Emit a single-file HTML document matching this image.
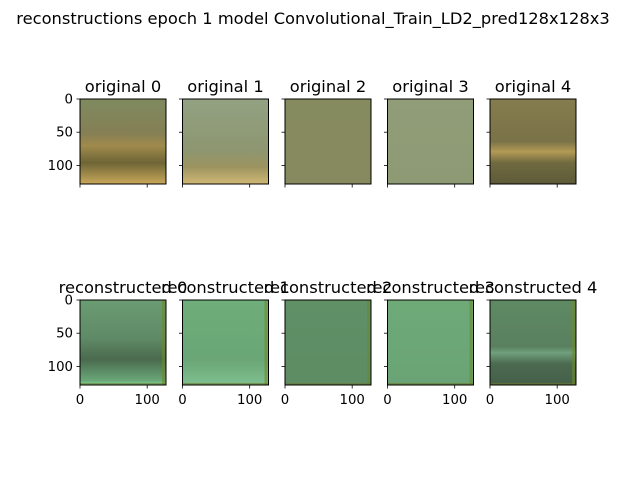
<!DOCTYPE html>
<html><head><meta charset="utf-8"><style>
body{margin:0;background:#fff;}
svg{display:block;font-family:"DejaVu Sans","Liberation Sans",sans-serif;}
</style></head><body>
<svg id="fig" width="640" height="480" xmlns="http://www.w3.org/2000/svg">
<defs>
<linearGradient id="o0" x1="0" y1="0" x2="0" y2="1"><stop offset="0" stop-color="#7f8a5f"/><stop offset="0.4" stop-color="#857f55"/><stop offset="0.55" stop-color="#a08a4c"/><stop offset="0.75" stop-color="#6e6536"/><stop offset="1" stop-color="#c8a85a"/></linearGradient>
<linearGradient id="o1" x1="0" y1="0" x2="0" y2="1"><stop offset="0" stop-color="#93a283"/><stop offset="0.6" stop-color="#8d9670"/><stop offset="0.8" stop-color="#9c9460"/><stop offset="1" stop-color="#d0b874"/></linearGradient>
<linearGradient id="o2" x1="0" y1="0" x2="0" y2="1"><stop offset="0" stop-color="#858a5f"/><stop offset="1" stop-color="#878a5e"/></linearGradient>
<linearGradient id="o3" x1="0" y1="0" x2="0" y2="1"><stop offset="0" stop-color="#919d78"/><stop offset="1" stop-color="#8e9a74"/></linearGradient>
<linearGradient id="o4" x1="0" y1="0" x2="0" y2="1"><stop offset="0" stop-color="#857c4e"/><stop offset="0.5" stop-color="#7a7248"/><stop offset="0.62" stop-color="#b39a55"/><stop offset="0.75" stop-color="#6f6a40"/><stop offset="1" stop-color="#5e5a38"/></linearGradient>
<linearGradient id="r0" x1="0" y1="0" x2="0" y2="1"><stop offset="0" stop-color="#6a9c72"/><stop offset="0.45" stop-color="#5f8a66"/><stop offset="0.7" stop-color="#4a6a4e"/><stop offset="0.95" stop-color="#6aa878"/><stop offset="1" stop-color="#80e0a0"/></linearGradient>
<linearGradient id="r1" x1="0" y1="0" x2="0" y2="1"><stop offset="0" stop-color="#6eae7a"/><stop offset="0.7" stop-color="#6aa676"/><stop offset="1" stop-color="#80c090"/></linearGradient>
<linearGradient id="r2" x1="0" y1="0" x2="0" y2="1"><stop offset="0" stop-color="#5f9066"/><stop offset="1" stop-color="#5e8c64"/></linearGradient>
<linearGradient id="r3" x1="0" y1="0" x2="0" y2="1"><stop offset="0" stop-color="#6eaa78"/><stop offset="1" stop-color="#6aa476"/></linearGradient>
<linearGradient id="r4" x1="0" y1="0" x2="0" y2="1"><stop offset="0" stop-color="#5e8a62"/><stop offset="0.55" stop-color="#5a8060"/><stop offset="0.62" stop-color="#70a07c"/><stop offset="0.75" stop-color="#4c6a50"/><stop offset="1" stop-color="#455f48"/></linearGradient>
</defs>
<text x="313" y="24" text-anchor="middle" font-size="16.3">reconstructions epoch 1 model Convolutional_Train_LD2_pred128x128x3</text>
</svg>
<script>
const panelLefts = [80, 182.5, 285, 387.5, 490];
const rowTops = [99, 300];
const imgSize = 128;
const yTickValues = [0, 50, 100];
const xTickValues = [0, 100];
const topTitles = ['original 0','original 1','original 2','original 3','original 4'];
const bottomTitles = ['reconstructed 0','reconstructed 1','reconstructed 2','reconstructed 3','reconstructed 4'];
const W = 86, H = 85;
const NS = 'http://www.w3.org/2000/svg';
const svg = document.getElementById('fig');
function mk(tag, attrs){const e=document.createElementNS(NS,tag);for(const k in attrs)e.setAttribute(k,attrs[k]);svg.appendChild(e);return e;}
function sx(left,v){return left + v/imgSize*W;}
function sy(top,v){return top + v/imgSize*H;}
rowTops.forEach((top,r)=>{
  panelLefts.forEach((left,c)=>{
    const img = mk('rect',{x:left,y:top,width:W,height:H,fill:'url(#'+(r?'r':'o')+c+')'});
    
    
    if(r){
      const bar = mk('rect',{x:left+W-4,y:top,width:3,height:H,fill:'#6a8a2a',opacity:0.6});
      
      
      const bot = mk('rect',{x:left,y:top+H-2,width:W,height:2,fill:'#6a7a2a',opacity:0.6});
      
      
    }
    const frame = mk('rect',{x:left,y:top,width:W,height:H,fill:'none',stroke:'#000','stroke-width':1});
    
    
    const t = mk('text',{x:left+W/2,y:top-7,'text-anchor':'middle','font-size':16.3});
    t.textContent = r?bottomTitles[c]:topTitles[c];
    
    
    yTickValues.forEach(v=>{
      const y = sy(top,v);
      const tk = mk('line',{x1:left,x2:left-3.5,y1:y,y2:y,stroke:'#000','stroke-width':0.8});
      
      
      if(c===0){
        const l = mk('text',{x:left-7,y:y+4.5,'text-anchor':'end','font-size':13.3});
        l.textContent = v;
        
        
      }
    });
    xTickValues.forEach(v=>{
      const x = sx(left,v);
      const tk = mk('line',{x1:x,x2:x,y1:top+H,y2:top+H+3.5,stroke:'#000','stroke-width':0.8});
      
      
      if(r===1){
        const l = mk('text',{x:x,y:top+H+19,'text-anchor':'middle','font-size':13.3});
        l.textContent = v;
        
        
      }
    });
  });
});
</script>
</body></html>
